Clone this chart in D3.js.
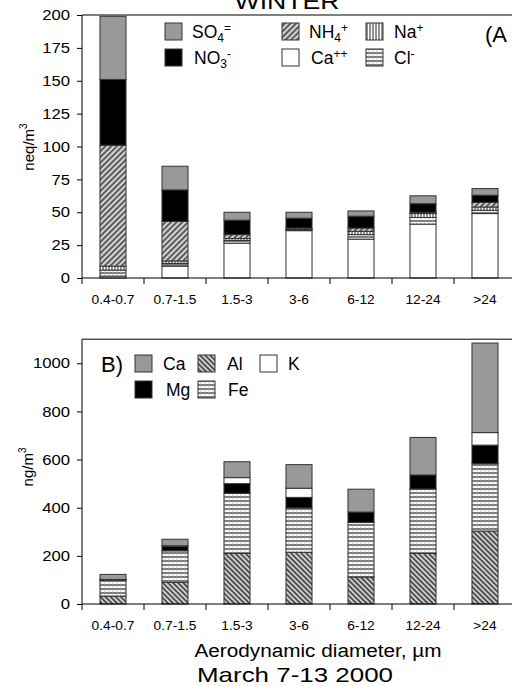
<!DOCTYPE html>
<html><head><meta charset="utf-8">
<script src="https://cdn.jsdelivr.net/npm/d3@7"></script>
<style>
html,body{margin:0;padding:0;background:#fff;}
svg{display:block;font-family:"Liberation Sans",Arial,sans-serif;}
</style></head>
<body>
<script>
// ---- Data ----
const categories = ["0.4-0.7","0.7-1.5","1.5-3","3-6","6-12","12-24",">24"];
// Panel A (neq/m3), stacked bottom -> top
const ionCa  = [1.5, 9, 26.5, 36, 29.5, 41, 49];
const ionCl  = [4.5, 2, 2, 0.5, 3.5, 5, 2.5];
const ionNa  = [3, 2, 1.5, 0.5, 2.5, 3, 2.5];
const ionNH4 = [92, 30, 3, 1, 2.5, 1, 3.5];
const ionNO3 = [50, 24, 11, 7.5, 9, 6.5, 5.5];
const ionSO4 = [48, 18, 6, 4.5, 4, 6, 5];
const ionTicks = [0,25,50,75,100,125,150,175,200];
// Panel B (ng/m3), stacked bottom -> top
const metAl = [33, 90, 210, 215, 112, 210, 303];
const metFe = [66, 131, 250, 184, 227, 268, 280];
const metMg = [2, 19, 40, 44, 43, 58, 77];
const metK  = [1, 2, 25, 38, 0, 0, 52];
const metCa = [21, 27, 66, 98, 95, 156, 372];
const metTicks = [0,200,400,600,800,1000];

const W = 512, H = 686;
const svg = d3.select("body").append("svg").attr("width", W).attr("height", H);
const defs = svg.append("defs");

function stretch(sel, f){
  sel.each(function(){
    const w = this.getComputedTextLength();
    d3.select(this).attr("textLength", w*f).attr("lengthAdjust","spacingAndGlyphs");
  });
}

function pat(id, bg, draw, size, rot){
  const p = defs.append("pattern").attr("id", id).attr("patternUnits","userSpaceOnUse")
    .attr("width", size).attr("height", size);
  if (rot) p.attr("patternTransform", "rotate(" + rot + ")");
  p.append("rect").attr("width", size).attr("height", size).attr("fill", bg);
  draw(p, size);
}
pat("hFwd", "#d4d4d4", (p,s)=>p.append("line").attr("x1",s/2).attr("x2",s/2).attr("y1",0).attr("y2",s).attr("stroke","#333").attr("stroke-width",1.5), 4, 45);
pat("hBack", "#cfcfcf", (p,s)=>p.append("line").attr("x1",s/2).attr("x2",s/2).attr("y1",0).attr("y2",s).attr("stroke","#333").attr("stroke-width",1.5), 3.6, -45);
pat("vLines", "#fff", (p,s)=>p.append("line").attr("x1",1).attr("x2",1).attr("y1",0).attr("y2",s).attr("stroke","#222").attr("stroke-width",1), 3, 0);
pat("hLines", "#fff", (p,s)=>{
  p.append("line").attr("x1",0).attr("x2",s).attr("y1",1).attr("y2",1).attr("stroke","#222").attr("stroke-width",1.2);
  p.append("line").attr("x1",1).attr("x2",1).attr("y1",0).attr("y2",s).attr("stroke","#aaa").attr("stroke-width",0.6);
}, 4, 0);

const fills = {
  SO4: "#999999", NO3: "#000000", NH4: "url(#hFwd)", Ca2: "#ffffff", Na: "url(#vLines)", Cl: "url(#hLines)",
  mCa: "#999999", mAl: "url(#hBack)", mK: "#ffffff", mMg: "#000000", mFe: "url(#hLines)"
};

const X0 = 82, step = 62;
const x = d3.scaleBand().domain(categories).range([X0, X0 + step*categories.length]).padding(0);
const barW = x.bandwidth()*0.42;

function panel(opts){
  const y = d3.scaleLinear().domain(opts.domain).range(opts.range);
  const g = svg.append("g");
  const rows = categories.map((c,i)=>{ const r = {cat:c}; opts.series.forEach(s=>r[s.key]=s.values[i]); return r; });
  const stack = d3.stack().keys(opts.series.map(s=>s.key))(rows);
  stack.forEach((layer, li)=>{
    const s = opts.series[li];
    g.selectAll(null).data(layer).join("rect")
      .attr("x", d=>x(d.data.cat) + (x.bandwidth()-barW)/2)
      .attr("width", barW)
      .attr("y", d=>y(d[1]))
      .attr("height", d=>Math.max(0, y(d[0]) - y(d[1])))
      .attr("fill", s.fill)
      .attr("stroke", d=> (d[1]-d[0])>0 ? "#333" : "none")
      .attr("stroke-width", 1);
  });
  const yb = opts.range[0], yt = y(opts.domain[1]);
  g.append("line").attr("x1",X0).attr("x2",W).attr("y1",yt).attr("y2",yt).attr("stroke","#000").attr("stroke-width",1);
  const yAxis = d3.axisLeft(y).tickValues(opts.ticks).tickSize(5).tickPadding(7).tickFormat(d3.format("d"));
  const ya = g.append("g").attr("transform","translate(" + X0 + ",0)").call(yAxis);
  ya.select(".domain").attr("d", "M0," + yb + "V" + yt);
  const tl = ya.selectAll("text").attr("font-size", 14.5).attr("font-family","Liberation Sans, Arial, sans-serif").attr("fill","#000");
  stretch(tl, 1.15);
  g.append("line").attr("x1",X0).attr("x2",W).attr("y1",yb).attr("y2",yb).attr("stroke","#000");
  const bounds = categories.map(c=>x(c)).concat([x.range()[1]]);
  g.selectAll(null).data(bounds).join("line")
    .attr("x1",d=>d).attr("x2",d=>d).attr("y1",yb).attr("y2",yb+6).attr("stroke","#000");
  const cl = g.selectAll(null).data(categories).join("text")
    .attr("x", d=>x(d)+x.bandwidth()/2).attr("y", yb + 26)
    .attr("text-anchor","middle").attr("font-size",12.5).text(d=>d);
  stretch(cl, 1.1);
  const yl = g.append("text").attr("transform","translate(" + opts.ylab.x + "," + opts.ylab.y + ") rotate(-90)")
    .attr("text-anchor","middle").attr("font-size",15);
  yl.append("tspan").text(opts.ylab.t);
  yl.append("tspan").attr("font-size",10).attr("dy",-7).text("3");
  return {g, y};
}

panel({
  domain:[0,200], range:[278,15], ticks: ionTicks,
  series:[
    {key:"Ca", values: ionCa, fill: fills.Ca2},
    {key:"Cl", values: ionCl, fill: fills.Cl},
    {key:"Na", values: ionNa, fill: fills.Na},
    {key:"NH4", values: ionNH4, fill: fills.NH4},
    {key:"NO3", values: ionNO3, fill: fills.NO3},
    {key:"SO4", values: ionSO4, fill: fills.SO4}
  ],
  ylab:{x:34, y:147, t:"neq/m"}
});

panel({
  domain:[0,1100], range:[604,339.2], ticks: metTicks,
  series:[
    {key:"Al", values: metAl, fill: fills.mAl},
    {key:"Fe", values: metFe, fill: fills.mFe},
    {key:"Mg", values: metMg, fill: fills.mMg},
    {key:"K", values: metK, fill: fills.mK},
    {key:"Ca", values: metCa, fill: fills.mCa}
  ],
  ylab:{x:33, y:467, t:"ng/m"}
});

// Title (partly above the top edge, as in the reference)
const tt = svg.append("text").attr("x",287).attr("y",9).attr("text-anchor","middle").attr("font-size",22).text("WINTER");
stretch(tt, 105/ tt.node().getComputedTextLength());
svg.append("text").attr("x",485).attr("y",42).attr("font-size",22).text("(A");

function legItem(bx, by, fill, tx, parts){
  svg.append("rect").attr("x",bx).attr("y",by).attr("width",17).attr("height",17)
    .attr("fill",fill).attr("stroke","#333").attr("stroke-width",1);
  const t = svg.append("text").attr("x",tx).attr("y",by+15).attr("font-size",17.5);
  parts.forEach(p=>{
    const s = t.append("tspan").text(p.t);
    if (p.sub) s.attr("font-size",12).attr("dy",4);
    if (p.sup) s.attr("font-size",12).attr("dy", p.dy || -6);
  });
}
legItem(165, 23, fills.SO4, 192, [{t:"SO"},{t:"4",sub:true},{t:"=",sup:true,dy:-10}]);
legItem(165, 49, fills.NO3, 194, [{t:"NO"},{t:"3",sub:true},{t:"-",sup:true,dy:-10}]);
legItem(282, 23, fills.NH4, 309, [{t:"NH"},{t:"4",sub:true},{t:"+",sup:true,dy:-10}]);
legItem(282, 49, fills.Ca2, 311, [{t:"Ca"},{t:"++",sup:true,dy:-6}]);
legItem(366, 23, fills.Na, 394, [{t:"Na"},{t:"+",sup:true,dy:-6}]);
legItem(366, 49, fills.Cl, 394, [{t:"Cl"},{t:"-",sup:true,dy:-6}]);

svg.append("text").attr("x",101).attr("y",372).attr("font-size",22).text("B)");
legItem(135, 355, fills.mCa, 163, [{t:"Ca"}]);
legItem(198, 355, fills.mAl, 227, [{t:"Al"}]);
legItem(260, 355, fills.mK, 288, [{t:"K"}]);
legItem(135, 381, fills.mMg, 166, [{t:"Mg"}]);
legItem(198, 381, fills.mFe, 228, [{t:"Fe"}]);

const at = svg.append("text").attr("x",318).attr("y",657).attr("text-anchor","middle").attr("font-size",18).text("Aerodynamic diameter, µm");
stretch(at, 247/at.node().getComputedTextLength());
const mt = svg.append("text").attr("x",295).attr("y",682).attr("text-anchor","middle").attr("font-size",21).text("March 7-13 2000");
stretch(mt, 196/mt.node().getComputedTextLength());
</script>
</body></html>
